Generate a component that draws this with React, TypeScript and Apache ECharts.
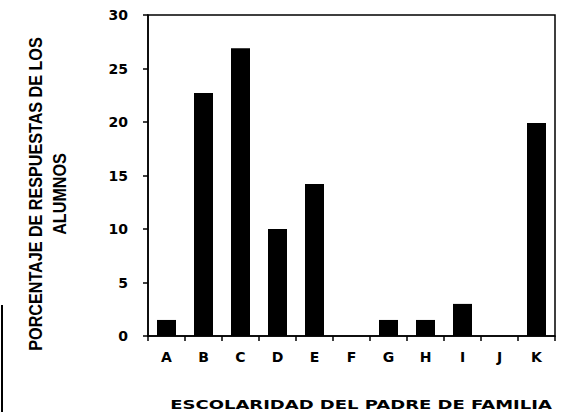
import React, { useEffect, useRef } from "react";
import * as echarts from "echarts";

const categories = ["A", "B", "C", "D", "E", "F", "G", "H", "I", "J", "K"];
const values = [1.5, 22.7, 26.9, 10, 14.2, 0, 1.5, 1.5, 3, 0, 19.9];
const yTicks = { min: 0, max: 30, interval: 5 };
const xTitle = "ESCOLARIDAD DEL PADRE DE FAMILIA";
const yTitle = "PORCENTAJE DE RESPUESTAS DE LOS\nALUMNOS";

export default function App() {
  const ref = useRef<HTMLDivElement>(null);
  useEffect(() => {
    if (!ref.current) return;
    const chart = echarts.init(ref.current, null, { renderer: "svg" });
    chart.setOption({
      animation: false,
      backgroundColor: "#fff",
      grid: {
        left: 148,
        right: 6,
        top: 15,
        bottom: 76,
        show: true,
        borderColor: "#000",
        borderWidth: 1.5,
      },
      xAxis: {
        type: "category",
        data: categories,
        axisLine: { show: true, lineStyle: { color: "#000", width: 1.5 } },
        axisTick: { show: true, length: 5, lineStyle: { color: "#000", width: 1.5 } },
        axisLabel: {
          color: "#000",
          fontFamily: "DejaVu Sans",
          fontWeight: "bold",
          fontSize: 14,
          margin: 14,
        },
        splitLine: { show: false },
      },
      yAxis: {
        type: "value",
        min: yTicks.min,
        max: yTicks.max,
        interval: yTicks.interval,
        axisLine: { show: true, lineStyle: { color: "#000", width: 1.5 } },
        axisTick: { show: true, length: 5, lineStyle: { color: "#000", width: 1.5 } },
        axisLabel: {
          color: "#000",
          fontFamily: "DejaVu Sans",
          fontWeight: "bold",
          fontSize: 14,
          margin: 20,
        },
        splitLine: { show: false },
      },
      series: [
        {
          type: "bar",
          data: values,
          barWidth: 19,
          itemStyle: { color: "#000" },
        },
      ],
      graphic: [
        {
          type: "text",
          x: 361,
          y: 405,
          scaleX: 1.5,
          style: {
            text: xTitle,
            fill: "#000",
            font: "bold 12px 'DejaVu Sans'",
            textAlign: "center",
            textVerticalAlign: "middle",
          },
        },
        {
          type: "text",
          x: 48,
          y: 194,
          rotation: Math.PI / 2,
          scaleX: 0.85,
          style: {
            text: yTitle,
            fill: "#000",
            font: "bold 19px 'Liberation Sans', Arial, sans-serif",
            textAlign: "center",
            textVerticalAlign: "middle",
            lineHeight: 24,
          },
        },
        {
          type: "line",
          shape: { x1: 2, y1: 305, x2: 2, y2: 412 },
          style: { stroke: "#000", lineWidth: 2 },
        },
      ],
    });
    return () => chart.dispose();
  }, []);
  return <div ref={ref} style={{ width: 561, height: 412, position: "absolute", left: 0, top: 0 }} />;
}
